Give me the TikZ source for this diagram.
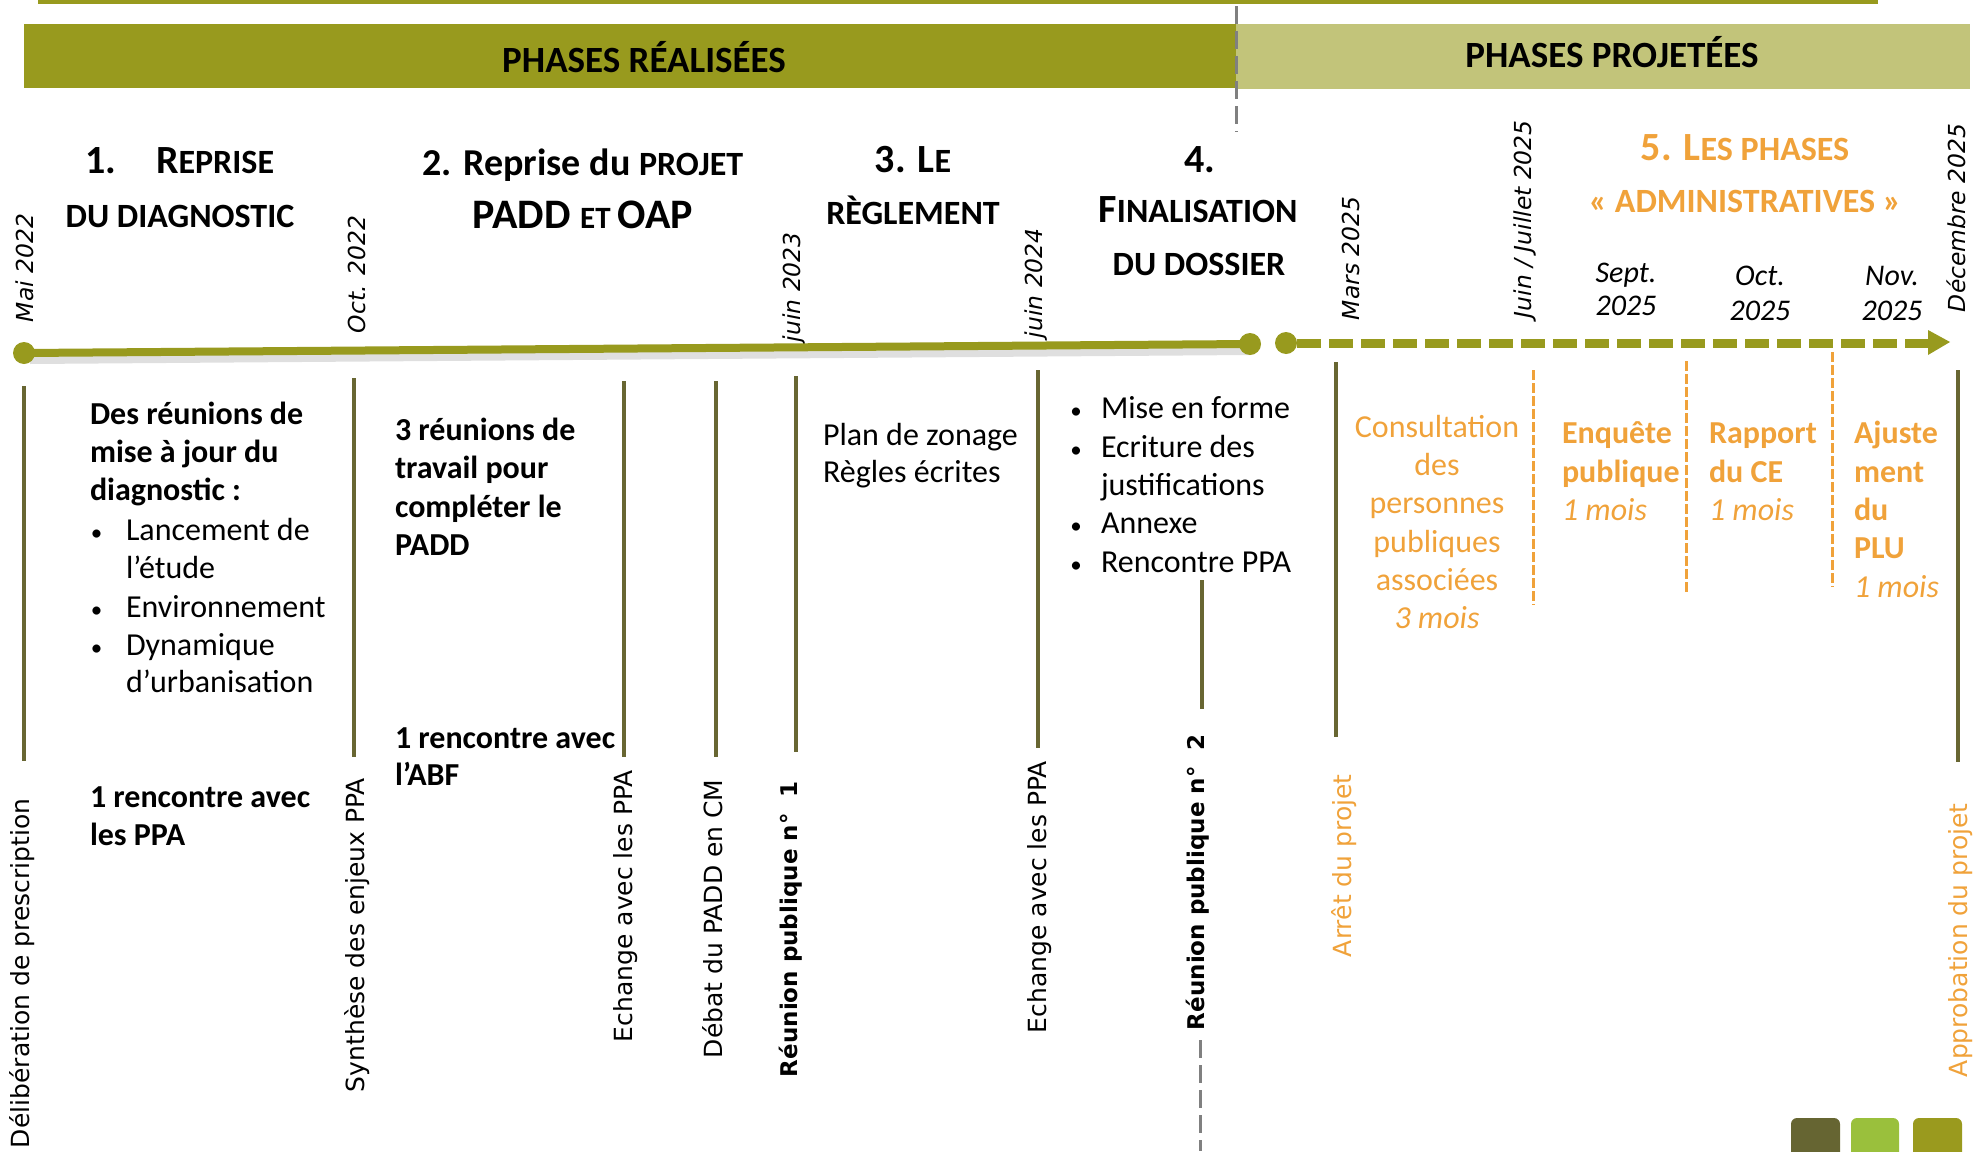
\documentclass[tikz,border=0pt]{standalone}
\usepackage{fontspec}
\setmainfont{Carlito}
\newfontfamily\dvs{DejaVu Sans}
\definecolor{olivemain}{RGB}{152,154,30}
\definecolor{olivelight}{RGB}{194,196,122}
\definecolor{olivedark}{RGB}{104,102,50}
\definecolor{orangec}{RGB}{240,162,58}
\definecolor{grayd}{RGB}{128,128,128}
\definecolor{swA}{RGB}{102,101,50}
\definecolor{swB}{RGB}{154,192,60}
\definecolor{swC}{RGB}{154,154,30}
\newcommand\HdBig{\fontsize{20}{24}\selectfont}
\newcommand\HdSm{\fontsize{17}{20}\selectfont}
\begin{document}
\begin{tikzpicture}[x=0.5pt,y=-0.5pt,
  txt/.style={inner sep=0pt, outer sep=0pt},
  hd/.style={txt, anchor=base, font=\bfseries},
  banner/.style={txt, anchor=base, font=\bfseries\fontsize{18.5}{22}\selectfont},
  body/.style={txt, anchor=base west, font=\fontsize{16}{19}\selectfont},
  bul/.style={txt, anchor=base, font=\fontsize{11.5}{14}\selectfont},
  bodyb/.style={txt, anchor=base west, font=\bfseries\fontsize{16}{19}\selectfont},
  orng/.style={txt, anchor=base, text=orangec, font=\fontsize{16}{19}\selectfont},
  orngb/.style={txt, anchor=base west, text=orangec, font=\bfseries\fontsize{16}{19}\selectfont},
  orngi/.style={txt, anchor=base west, text=orangec, font=\itshape\fontsize{16}{19}\selectfont},
  hdate/.style={txt, anchor=base, font=\itshape\fontsize{15}{18}\selectfont},
  vdate/.style={txt, rotate=90, anchor=west, font=\dvs\itshape\fontsize{11.7}{14}\selectfont},
  vlab/.style={txt, rotate=90, anchor=west, font=\dvs\fontsize{12.5}{15}\selectfont},
  vlabb/.style={txt, rotate=90, anchor=west, font=\dvs\bfseries\fontsize{11.5}{14}\selectfont},
  vline/.style={draw=olivedark, line width=1.75pt},
  odash/.style={draw=orangec, line width=1.5pt, dash pattern=on 5pt off 1.5pt},
  gdash/.style={draw=grayd, line width=1.5pt, dash pattern=on 9pt off 3.5pt},
]
\useasboundingbox (0,0) rectangle (1986,1151);

% top line and banners
\fill[olivemain] (38,0) rectangle (1878,4);
\fill[olivemain] (24,24) rectangle (1236,88);
\fill[olivelight] (1236,24) rectangle (1970,89);
\node[banner] (ban1) at (644,72) {PHASES RÉALISÉES};
\node[banner] (ban2) at (1612,67) {PHASES PROJETÉES};
\draw[gdash] (1236,6) -- (1236,132);

% headings
\node[hd, anchor=base west] (h1n) at (85,173) {\HdBig 1.};
\node[hd, anchor=base west] (h1r) at (156,173) {\HdBig R\HdSm EPRISE};
\node[hd] (h1d) at (180,227) {\HdSm DU DIAGNOSTIC};
\node[hd] (h2a) at (583,175) {\fontsize{19}{23}\selectfont 2. Reprise du \HdSm PROJET};
\node[hd] (h2b) at (583,228) {\fontsize{21}{25}\selectfont PADD \fontsize{15.5}{18}\selectfont ET \fontsize{21}{25}\selectfont OAP};
\node[hd] (h3a) at (913,172) {\HdBig 3. L\HdSm E};
\node[hd] (h3b) at (913,224) {\HdSm RÈGLEMENT};
\node[hd] (h4a) at (1200,172) {\HdBig 4.};
\node[hd] (h4b) at (1198,222) {\HdBig F\HdSm INALISATION};
\node[hd] (h4c) at (1199,275) {\HdSm DU DOSSIER};
\node[hd, text=orangec] (h5a) at (1745,160) {\HdBig 5. L\HdSm ES PHASES};
\node[hd, text=orangec] (h5b) at (1745,212) {\HdSm « ADMINISTRATIVES »};

% rotated dates
\node[vdate] (d1) at (25,322) {Mai 2022};
\node[vdate] (d2) at (357,333) {Oct. 2022};
\node[vdate] (d3) at (794,342) {juin 2023};
\node[vdate] (d4) at (1036,338) {juin 2024};
\node[vdate] (d5) at (1351,320) {Mars 2025};
\node[vdate] (d6) at (1525,318) {Juin / Juillet 2025};
\node[vdate] (d7) at (1956,312) {Décembre 2025};

% horizontal dates
\node[hdate] (s1) at (1626,282) {Sept.};
\node[hdate] (s2) at (1626,315) {2025};
\node[hdate] (o1) at (1760,285) {Oct.};
\node[hdate] (o2) at (1760,320) {2025};
\node[hdate] (n1) at (1892,285) {Nov.};
\node[hdate] (n2) at (1892,320) {2025};

% timeline
\draw[gray!25, line width=4pt] (30,360) -- (1250,351);
\draw[olivemain, line width=4pt] (24,353) -- (1250,344);
\fill[olivemain] (24,353) circle (11);
\fill[olivemain] (1250,344) circle (11);
\fill[olivemain] (1286,343) circle (11);
\draw[olivemain, line width=4.5pt, dash pattern=on 12pt off 4pt] (1297,343) -- (1928,343);
\fill[olivemain] (1928,330) -- (1950,342) -- (1928,355) -- cycle;

% vertical marker lines
\draw[vline] (24,386) -- (24,761);
\draw[vline] (354,378) -- (354,757);
\draw[vline] (624,381) -- (624,757);
\draw[vline] (716,381) -- (716,757);
\draw[vline] (796,376) -- (796,752);
\draw[vline] (1038,370) -- (1038,748);
\draw[vline] (1202,580) -- (1202,709);
\draw[vline] (1336,362) -- (1336,737);
\draw[vline] (1958,370) -- (1958,762);
\draw[odash] (1533,370) -- (1533,605);
\draw[odash] (1686,361) -- (1686,595);
\draw[odash] (1832,352) -- (1832,587);
\draw[gdash] (1200,1040) -- (1200,1151);

% block 1
\node[bodyb] (b1a) at (90,424) {Des réunions de};
\node[bodyb] (b1b) at (90,462) {mise à jour du};
\node[bodyb] (b1c) at (90,500) {diagnostic :};
\node[bul] (b1d) at (96.5,540) {•};
\node[body] (b1e) at (126,540) {Lancement de};
\node[body] (b1f) at (126,578) {l’étude};
\node[bul] (b1g) at (96.5,617) {•};
\node[body] (b1h) at (126,617) {Environnement};
\node[bul] (b1i) at (96.5,655) {•};
\node[body] (b1j) at (126,655) {Dynamique};
\node[body] (b1k) at (126,692) {d’urbanisation};
\node[bodyb] (b1l) at (90,807) {1 rencontre avec};
\node[bodyb] (b1m) at (90,845) {les PPA};

% block 2
\node[bodyb] (b2a) at (395,440) {3 réunions de};
\node[bodyb] (b2b) at (395,478) {travail pour};
\node[bodyb] (b2c) at (395,517) {compléter le};
\node[bodyb] (b2d) at (395,555) {PADD};
\node[bodyb] (b2e) at (395,748) {1 rencontre avec};
\node[bodyb] (b2f) at (395,785) {l’ABF};

% block 3
\node[body] (b3a) at (823,445) {Plan de zonage};
\node[body] (b3b) at (823,482) {Règles écrites};

% block 4
\node[bul] (b4a) at (1076,418) {•};
\node[body] (b4b) at (1101,418) {Mise en forme};
\node[bul] (b4c) at (1076,457) {•};
\node[body] (b4d) at (1101,457) {Ecriture des};
\node[body] (b4e) at (1101,495) {justifications};
\node[bul] (b4f) at (1076,533) {•};
\node[body] (b4g) at (1101,533) {Annexe};
\node[bul] (b4h) at (1076,572) {•};
\node[body] (b4i) at (1101,572) {Rencontre PPA};

% orange blocks
\node[orng] (c1) at (1437,437) {Consultation};
\node[orng] (c2) at (1437,475) {des};
\node[orng] (c3) at (1437,513) {personnes};
\node[orng] (c4) at (1437,552) {publiques};
\node[orng] (c5) at (1437,590) {associées};
\node[orng, font=\itshape\fontsize{16}{19}\selectfont] (c6) at (1437,628) {3 mois};
\node[orngb] (e1) at (1562,443) {Enquête};
\node[orngb] (e2) at (1562,482) {publique};
\node[orngi] (e3) at (1562,520) {1 mois};
\node[orngb] (r1) at (1709,443) {Rapport};
\node[orngb] (r2) at (1709,482) {du CE};
\node[orngi] (r3) at (1709,520) {1 mois};
\node[orngb] (a1) at (1854,443) {Ajuste};
\node[orngb] (a2) at (1854,482) {ment};
\node[orngb] (a3) at (1854,520) {du};
\node[orngb] (a4) at (1854,558) {PLU};
\node[orngi] (a5) at (1854,597) {1 mois};

% bottom rotated labels
\node[vlab] (l1) at (22,1148) {Délibération de prescription};
\node[vlab] (l2) at (357,1092) {Synthèse des enjeux PPA};
\node[vlab] (l3) at (626,1042) {Echange avec les PPA};
\node[vlab] (l4) at (713,1058) {Débat du PADD en CM};
\node[vlabb] (l5) at (791,1077) {Réunion publique n°\hspace{8pt}1};
\node[vlab] (l6) at (1040,1033) {Echange avec les PPA};
\node[vlabb] (l7) at (1198,1030) {Réunion publique n°\hspace{8pt}2};
\node[vlab, text=orangec] (l8) at (1344,957) {Arrêt du projet};
\node[vlab, text=orangec] (l9) at (1961,1077) {Approbation du projet};

% swatches
\fill[swA, rounded corners=3pt] (1791,1118) rectangle (1840,1170);
\fill[swB, rounded corners=3pt] (1851,1118) rectangle (1899,1170);
\fill[swC, rounded corners=3pt] (1913,1118) rectangle (1962,1170);
\end{tikzpicture}
\end{document}
